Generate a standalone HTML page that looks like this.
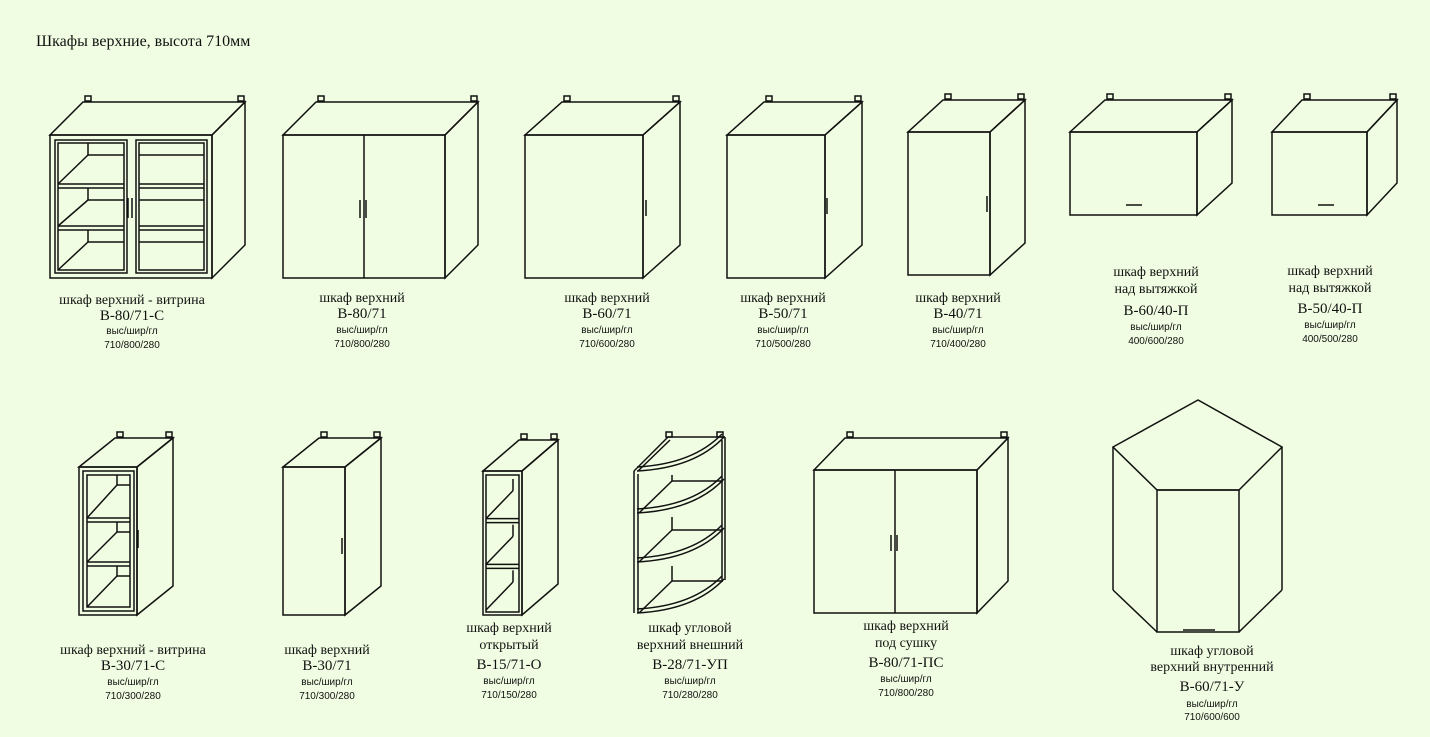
<!DOCTYPE html>
<html><head><meta charset="utf-8"><style>
html,body{margin:0;padding:0;background:#f1fde2;}
svg{display:block}
.t{font-family:"Liberation Serif",serif;font-size:14px;fill:#111;text-anchor:middle}
.c{font-family:"Liberation Serif",serif;font-size:15px;fill:#111;text-anchor:middle}
.s{font-family:"Liberation Sans",sans-serif;font-size:10px;fill:#111;text-anchor:middle}
</style></head><body>
<svg id="s" width="1430" height="737" viewBox="0 0 1430 737" xmlns="http://www.w3.org/2000/svg">
<rect width="1430" height="737" fill="#f1fde2"/>
<text x="36" y="46" style="font-family:'Liberation Serif',serif;font-size:16px;fill:#111">Шкафы верхние, высота 710мм</text>
<g id="g" fill="none" stroke="#111" stroke-width="1.5"></g>

<text class="t" x="132" y="304">шкаф верхний - витрина</text>
<text class="c" x="132" y="320">B-80/71-C</text>
<text class="s" x="132" y="334">выс/шир/гл</text>
<text class="s" x="132" y="348">710/800/280</text>

<text class="t" x="362" y="302">шкаф верхний</text>
<text class="c" x="362" y="318">B-80/71</text>
<text class="s" x="362" y="333">выс/шир/гл</text>
<text class="s" x="362" y="347">710/800/280</text>

<text class="t" x="607" y="302">шкаф верхний</text>
<text class="c" x="607" y="318">B-60/71</text>
<text class="s" x="607" y="333">выс/шир/гл</text>
<text class="s" x="607" y="347">710/600/280</text>

<text class="t" x="783" y="302">шкаф верхний</text>
<text class="c" x="783" y="318">B-50/71</text>
<text class="s" x="783" y="333">выс/шир/гл</text>
<text class="s" x="783" y="347">710/500/280</text>

<text class="t" x="958" y="302">шкаф верхний</text>
<text class="c" x="958" y="318">B-40/71</text>
<text class="s" x="958" y="333">выс/шир/гл</text>
<text class="s" x="958" y="347">710/400/280</text>

<text class="t" x="1156" y="276">шкаф верхний</text>
<text class="t" x="1156" y="293">над вытяжкой</text>
<text class="c" x="1156" y="315">B-60/40-П</text>
<text class="s" x="1156" y="330">выс/шир/гл</text>
<text class="s" x="1156" y="344">400/600/280</text>

<text class="t" x="1330" y="275">шкаф верхний</text>
<text class="t" x="1330" y="292">над вытяжкой</text>
<text class="c" x="1330" y="313">B-50/40-П</text>
<text class="s" x="1330" y="328">выс/шир/гл</text>
<text class="s" x="1330" y="342">400/500/280</text>

<text class="t" x="133" y="654">шкаф верхний - витрина</text>
<text class="c" x="133" y="670">B-30/71-C</text>
<text class="s" x="133" y="685">выс/шир/гл</text>
<text class="s" x="133" y="699">710/300/280</text>

<text class="t" x="327" y="654">шкаф верхний</text>
<text class="c" x="327" y="670">B-30/71</text>
<text class="s" x="327" y="685">выс/шир/гл</text>
<text class="s" x="327" y="699">710/300/280</text>

<text class="t" x="509" y="632">шкаф верхний</text>
<text class="t" x="509" y="649">открытый</text>
<text class="c" x="509" y="669">B-15/71-O</text>
<text class="s" x="509" y="684">выс/шир/гл</text>
<text class="s" x="509" y="698">710/150/280</text>

<text class="t" x="690" y="632">шкаф угловой</text>
<text class="t" x="690" y="649">верхний внешний</text>
<text class="c" x="690" y="669">B-28/71-УП</text>
<text class="s" x="690" y="684">выс/шир/гл</text>
<text class="s" x="690" y="698">710/280/280</text>

<text class="t" x="906" y="630">шкаф верхний</text>
<text class="t" x="906" y="647">под сушку</text>
<text class="c" x="906" y="667">B-80/71-ПС</text>
<text class="s" x="906" y="682">выс/шир/гл</text>
<text class="s" x="906" y="696">710/800/280</text>

<text class="t" x="1212" y="655">шкаф угловой</text>
<text class="t" x="1212" y="671">верхний внутренний</text>
<text class="c" x="1212" y="691">B-60/71-У</text>
<text class="s" x="1212" y="707">выс/шир/гл</text>
<text class="s" x="1212" y="720">710/600/600</text>
</svg>
<script>
var g=document.getElementById('g'),h='';
function L(a,b,c,d){h+='<line x1="'+a+'" y1="'+b+'" x2="'+c+'" y2="'+d+'"/>';}
function R(x,y,w,hh){h+='<rect x="'+x+'" y="'+y+'" width="'+w+'" height="'+hh+'"/>';}
function P(pts){h+='<polygon points="'+pts+'"/>';}
function box(x1,y1,x2,y2,dx,dy,feet){
 R(x1,y1,x2-x1,y2-y1);
 P(x1+','+y1+' '+(x1+dx)+','+(y1+dy)+' '+(x2+dx)+','+(y1+dy)+' '+x2+','+y1);
 P(x2+','+y1+' '+(x2+dx)+','+(y1+dy)+' '+(x2+dx)+','+(y2+dy)+' '+x2+','+y2);
 if(feet!==false){R(x1+dx+2,y1+dy-6,6,5);R(x2+dx-7,y1+dy-6,6,5);}
}
function vh(x,y,l){L(x,y,x,y+l);}
/* glass compartment with visible back corner */
function comp(x1,y1,x2,y2,bx,d){
 var by=y1+d; L(bx,y1,bx,by); L(bx,by,x2,by); L(x1,y2,bx,by);
}
/* row 1 */
box(50,135,212,278,33,-33);
R(55,140,72,133);R(136,140,71,133);
R(58,143,66,127);R(139,143,65,127);
L(58,184,124,184);L(58,188,124,188);L(58,226,124,226);L(58,230,124,230);
comp(58,143,124,184,88,12);comp(58,188,124,226,88,12);comp(58,230,124,270,88,12);
L(139,184,204,184);L(139,188,204,188);L(139,226,204,226);L(139,230,204,230);
L(139,155,204,155);L(139,200,204,200);L(139,242,204,242);
vh(128,198,20);vh(132,198,20);
box(283,135,445,278,33,-33);L(364,135,364,278);vh(360,200,18);vh(366,200,18);
box(525,135,643,278,37,-33);vh(646,200,16);
box(727,135,825,278,37,-33);vh(827,198,16);
box(908,132,990,275,35,-32);vh(987,196,16);
box(1070,132,1197,215,35,-32);L(1126,205,1142,205);
box(1272,132,1367,215,30,-32);L(1318,205,1334,205);
/* row 2 */
box(79,467,137,615,36,-29);
R(83,471,51,140);R(87,475,43,132);
L(87,518,130,518);L(87,522,130,522);L(87,562,130,562);L(87,566,130,566);
comp(87,475,130,518,117,10);comp(87,522,130,562,117,10);comp(87,566,130,607,117,10);
vh(138,530,18);
box(283,467,345,615,36,-29);vh(342,538,16);
box(483,471,522,615,36,-31);
R(486,475,33,137);
(function(){var x1=486,x2=519,y1=475,y2=612,ih=(y2-y1)/3;for(var i=0;i<3;i++){var a=y1+i*ih,b=a+ih;if(i>0){L(x1,a-2,x2,a-2);L(x1,a+2,x2,a+2);}L(x1,b-2,x2-6,b-30);L(x2-6,a+4,x2-6,b-30);}})();
/* corner outer */
L(634,471,634,613);L(638,474,638,613);
L(634,471,668,437);L(638,471,670,440);
L(668,437,725,437);
L(725,437,725,580);L(722,440,722,582);
R(666,432,6,5);R(717,432,6,5);
var ys=[471,513,562,613];
for(var i=0;i<4;i++){var y=ys[i];
 h+='<path d="M637,'+y+' Q695,'+(y-3)+' 724,'+(y-34)+' M637,'+(y-4)+' Q693,'+(y-7)+' 722,'+(y-37)+'"/>';
 if(i>0){var t=y-32; L(639,y,672,t); L(672,t,723,t); L(672,t,672,ys[i-1]+4);}
}
box(814,470,977,613,31,-32);L(895,470,895,613);vh(891,535,16);vh(897,535,16);
/* corner inner */
P('1198,400 1113,447 1157,490 1239,490 1282,447');
R(1157,490,82,142);
L(1113,447,1113,590);L(1113,590,1157,632);L(1282,447,1282,590);L(1282,590,1239,632);
L(1183,630,1215,630);
g.innerHTML=h;
</script>
</body></html>
